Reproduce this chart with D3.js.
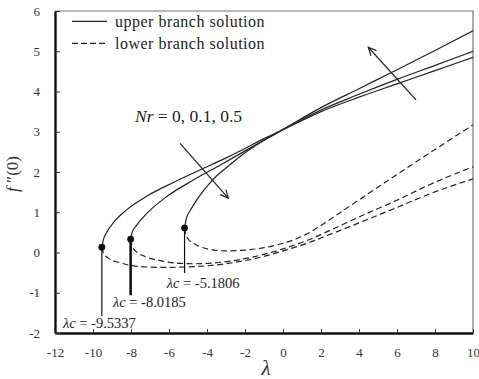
<!DOCTYPE html>
<html>
<head>
<meta charset="utf-8">
<script src="https://cdn.jsdelivr.net/npm/d3@7"></script>
<style>
  html, body { margin: 0; padding: 0; background: #fff; }
  svg { display: block; }
  svg text { font-family: 'Liberation Serif', 'DejaVu Serif', serif; }
</style>
</head>
<body>
<svg id="chart" width="479" height="379"></svg>
<script>
const SERIF = "'Liberation Serif', 'DejaVu Serif', serif";

// Axis ticks
const xTicks = [-12, -10, -8, -6, -4, -2, 0, 2, 4, 6, 8, 10];
const yTicks = [-2, -1, 0, 1, 2, 3, 4, 5, 6];

// Critical points (turning points) for Nr = 0, 0.1, 0.5
const nrValues = [0, 0.1, 0.5];
const lambdaC = [-9.5337, -8.0185, -5.1806];
const fAtLambdaC = [0.13, 0.33, 0.61];

// Upper branch, Nr = 0
const upperLambdaNr0 = [-9.5337, -9.45, -9.28, -8.93, -8.23, -7.17, -5.77, -4.37, -3.00, -1.90, -1.00, 0, 2, 4, 6, 8, 10];
const upperFNr0      = [0.13, 0.32, 0.50, 0.74, 1.06, 1.40, 1.74, 2.05, 2.35, 2.61, 2.83, 3.05, 3.50, 3.86, 4.19, 4.52, 4.85];
// Upper branch, Nr = 0.1
const upperLambdaNr01 = [-8.0185, -7.95, -7.70, -7.17, -6.12, -4.72, -3.32, -1.90, -1.00, 0, 2, 4, 6, 8, 10];
const upperFNr01      = [0.33, 0.49, 0.68, 0.97, 1.39, 1.80, 2.17, 2.55, 2.79, 3.05, 3.54, 3.93, 4.30, 4.65, 5.00];
// Upper branch, Nr = 0.5
const upperLambdaNr05 = [-5.1806, -5.10, -4.90, -4.72, -4.40, -4.00, -3.50, -3.00, -2.00, -1.00, 0, 2, 4, 6, 8, 10];
const upperFNr05      = [0.61, 0.82, 1.03, 1.17, 1.40, 1.64, 1.90, 2.10, 2.48, 2.79, 3.06, 3.60, 4.07, 4.54, 5.02, 5.51];

// Lower branch, Nr = 0
const lowerLambdaNr0 = [-9.5337, -9.45, -9.19, -8.60, -8.14, -7.20, -6.39, -4.63, -2.88, -1.12, 0, 1.33, 2.47, 4.23, 6, 7.74, 10];
const lowerFNr0      = [0.13, -0.02, -0.14, -0.25, -0.31, -0.36, -0.37, -0.35, -0.27, -0.11, 0.04, 0.24, 0.45, 0.78, 1.12, 1.46, 1.83];
// Lower branch, Nr = 0.1
const lowerLambdaNr01 = [-8.0185, -7.95, -7.79, -7.26, -6.39, -5.40, -4.63, -2.88, -1.12, 0, 1.33, 2.47, 4.23, 6, 7.74, 10];
const lowerFNr01      = [0.33, 0.17, 0.05, -0.10, -0.21, -0.27, -0.28, -0.22, -0.06, 0.09, 0.31, 0.55, 0.93, 1.30, 1.69, 2.13];
// Lower branch, Nr = 0.5
const lowerLambdaNr05 = [-5.1806, -5.12, -4.98, -4.60, -4.28, -3.60, -3.00, -2.00, -1.00, 0, 0.70, 1.33, 2.00, 3.00, 4.23, 6, 8, 10];
const lowerFNr05      = [0.61, 0.45, 0.33, 0.20, 0.13, 0.06, 0.04, 0.06, 0.12, 0.23, 0.34, 0.48, 0.67, 0.99, 1.38, 1.94, 2.56, 3.17];

// Callout lines under each critical point and their labels
const calloutEndF = [-1.58, -1.06, -0.51];
const calloutLabelLambda = [-11.58, -8.95, -6.12];
const calloutLabelF = [-1.87, -1.36, -0.89];
const calloutWidth = [1.2, 2.6, 1.2];

const svg = d3.select("#chart");

const x = d3.scaleLinear().domain([-12, 10]).range([55, 473]);
const y = d3.scaleLinear().domain([-2, 6]).range([333, 11]);

const zip = (a, b) => a.map((v, i) => [v, b[i]]);
const upper = [zip(upperLambdaNr0, upperFNr0), zip(upperLambdaNr01, upperFNr01), zip(upperLambdaNr05, upperFNr05)];
const lower = [zip(lowerLambdaNr0, lowerFNr0), zip(lowerLambdaNr01, lowerFNr01), zip(lowerLambdaNr05, lowerFNr05)];

// Plot frame: thin grey top/right border
svg.append("path")
  .attr("d", `M${x(-12)},${y(6)}H${x(10)}V${y(-2)}`)
  .attr("fill", "none").attr("stroke", "#777").attr("stroke-width", 1.2);

const defs = svg.append("defs");
defs.append("clipPath").attr("id", "plot")
  .append("rect").attr("x", x(-12)).attr("y", y(6))
  .attr("width", x(10) - x(-12)).attr("height", y(-2) - y(6));

// Axes with inward ticks
const gx = svg.append("g")
  .attr("transform", `translate(0,${y(-2)})`)
  .call(d3.axisBottom(x).tickValues(xTicks).tickSizeInner(-4).tickSizeOuter(0)
    .tickPadding(15).tickFormat(d => String(d)));
const gy = svg.append("g")
  .attr("transform", `translate(${x(-12)},0)`)
  .call(d3.axisLeft(y).tickValues(yTicks).tickSizeInner(-5).tickSizeOuter(0)
    .tickPadding(15).tickFormat(d => String(d)));

[gx, gy].forEach(g => {
  g.attr("font-family", SERIF).attr("font-size", 13);
  g.select(".domain").attr("stroke", "#111").attr("stroke-width", 2.4);
  g.selectAll(".tick line").attr("stroke", "#333").attr("stroke-width", 1);
  g.selectAll(".tick text").attr("fill", "#333").attr("font-family", SERIF).attr("font-size", 13);
});

const line = d3.line()
  .x(d => x(d[0])).y(d => y(d[1]))
  .curve(d3.curveMonotoneX);

const curves = svg.append("g").attr("clip-path", "url(#plot)");

curves.selectAll("path.upper").data(upper).join("path")
  .attr("class", "upper")
  .attr("d", line)
  .attr("fill", "none").attr("stroke", "#222").attr("stroke-width", 1.2);

curves.selectAll("path.lower").data(lower).join("path")
  .attr("class", "lower")
  .attr("d", line)
  .attr("fill", "none").attr("stroke", "#222").attr("stroke-width", 1.2)
  .attr("stroke-dasharray", "6,3.5");

// Callouts from the critical points
svg.selectAll("line.callout").data(lambdaC).join("line")
  .attr("class", "callout")
  .attr("x1", d => x(d)).attr("x2", d => x(d))
  .attr("y1", (d, i) => y(fAtLambdaC[i])).attr("y2", (d, i) => y(calloutEndF[i]))
  .attr("stroke", "#111").attr("stroke-width", (d, i) => calloutWidth[i]);

svg.selectAll("circle.crit").data(lambdaC).join("circle")
  .attr("class", "crit")
  .attr("cx", d => x(d)).attr("cy", (d, i) => y(fAtLambdaC[i]))
  .attr("r", 3.4).attr("fill", "#111");

const labels = svg.selectAll("text.crit").data(lambdaC).join("text")
  .attr("class", "crit")
  .attr("x", (d, i) => x(calloutLabelLambda[i]))
  .attr("y", (d, i) => y(calloutLabelF[i]))
  .attr("font-family", SERIF)
  .attr("font-size", 14.5).attr("fill", "#222");
labels.append("tspan").attr("font-style", "italic").text("λc");
labels.append("tspan").text(d => " = " + d.toFixed(4));

// Arrow marker
defs.append("marker")
  .attr("id", "head").attr("viewBox", "-10 -6 12 12")
  .attr("refX", 0).attr("refY", 0)
  .attr("markerWidth", 12).attr("markerHeight", 12)
  .attr("markerUnits", "userSpaceOnUse")
  .attr("orient", "auto")
  .append("path").attr("d", "M-8,-3.8L0,0L-8,3.8")
  .attr("fill", "none").attr("stroke", "#222").attr("stroke-width", 1.2);

const arrows = [
  { from: [7.0, 3.79], to: [4.49, 5.10] },
  { from: [-5.42, 2.71], to: [-2.88, 1.35] }
];
svg.selectAll("line.arrow").data(arrows).join("line")
  .attr("class", "arrow")
  .attr("x1", d => x(d.from[0])).attr("y1", d => y(d.from[1]))
  .attr("x2", d => x(d.to[0])).attr("y2", d => y(d.to[1]))
  .attr("stroke", "#222").attr("stroke-width", 1.2)
  .attr("marker-end", "url(#head)");

// Nr annotation
const nrText = svg.append("text")
  .attr("x", x(-7.79)).attr("y", y(3.25))
  .attr("font-family", SERIF)
  .attr("font-size", 17.5).attr("fill", "#222");
nrText.append("tspan").attr("font-style", "italic").text("Nr");
nrText.append("tspan").text(" = " + nrValues.join(", "));

// Legend
const legendItems = [
  { label: "upper branch solution", dash: null, y: 21.3 },
  { label: "lower branch solution", dash: "6,3", y: 43.3 }
];
const legend = svg.append("g");
legendItems.forEach(it => {
  legend.append("line")
    .attr("x1", 72).attr("x2", 107).attr("y1", it.y).attr("y2", it.y)
    .attr("stroke", "#222").attr("stroke-width", 1.2)
    .attr("stroke-dasharray", it.dash);
  legend.append("text")
    .attr("x", 115).attr("y", it.y + 5.5)
    .attr("font-family", SERIF)
    .attr("font-size", 16).attr("letter-spacing", 0.5).attr("fill", "#222")
    .text(it.label);
});

// Axis titles
const yTitle = svg.append("text")
  .attr("transform", "translate(18,174) rotate(-90)")
  .attr("font-family", SERIF)
  .attr("text-anchor", "middle").attr("font-size", 17).attr("fill", "#333");
yTitle.append("tspan").attr("font-style", "italic").text("f");
yTitle.append("tspan").text(" \u2033(0)");

svg.append("text")
  .attr("x", 266).attr("y", 375)
  .attr("font-family", SERIF)
  .attr("text-anchor", "middle").attr("font-size", 21)
  .attr("font-style", "italic").attr("fill", "#333")
  .text("λ");
</script>
</body>
</html>
